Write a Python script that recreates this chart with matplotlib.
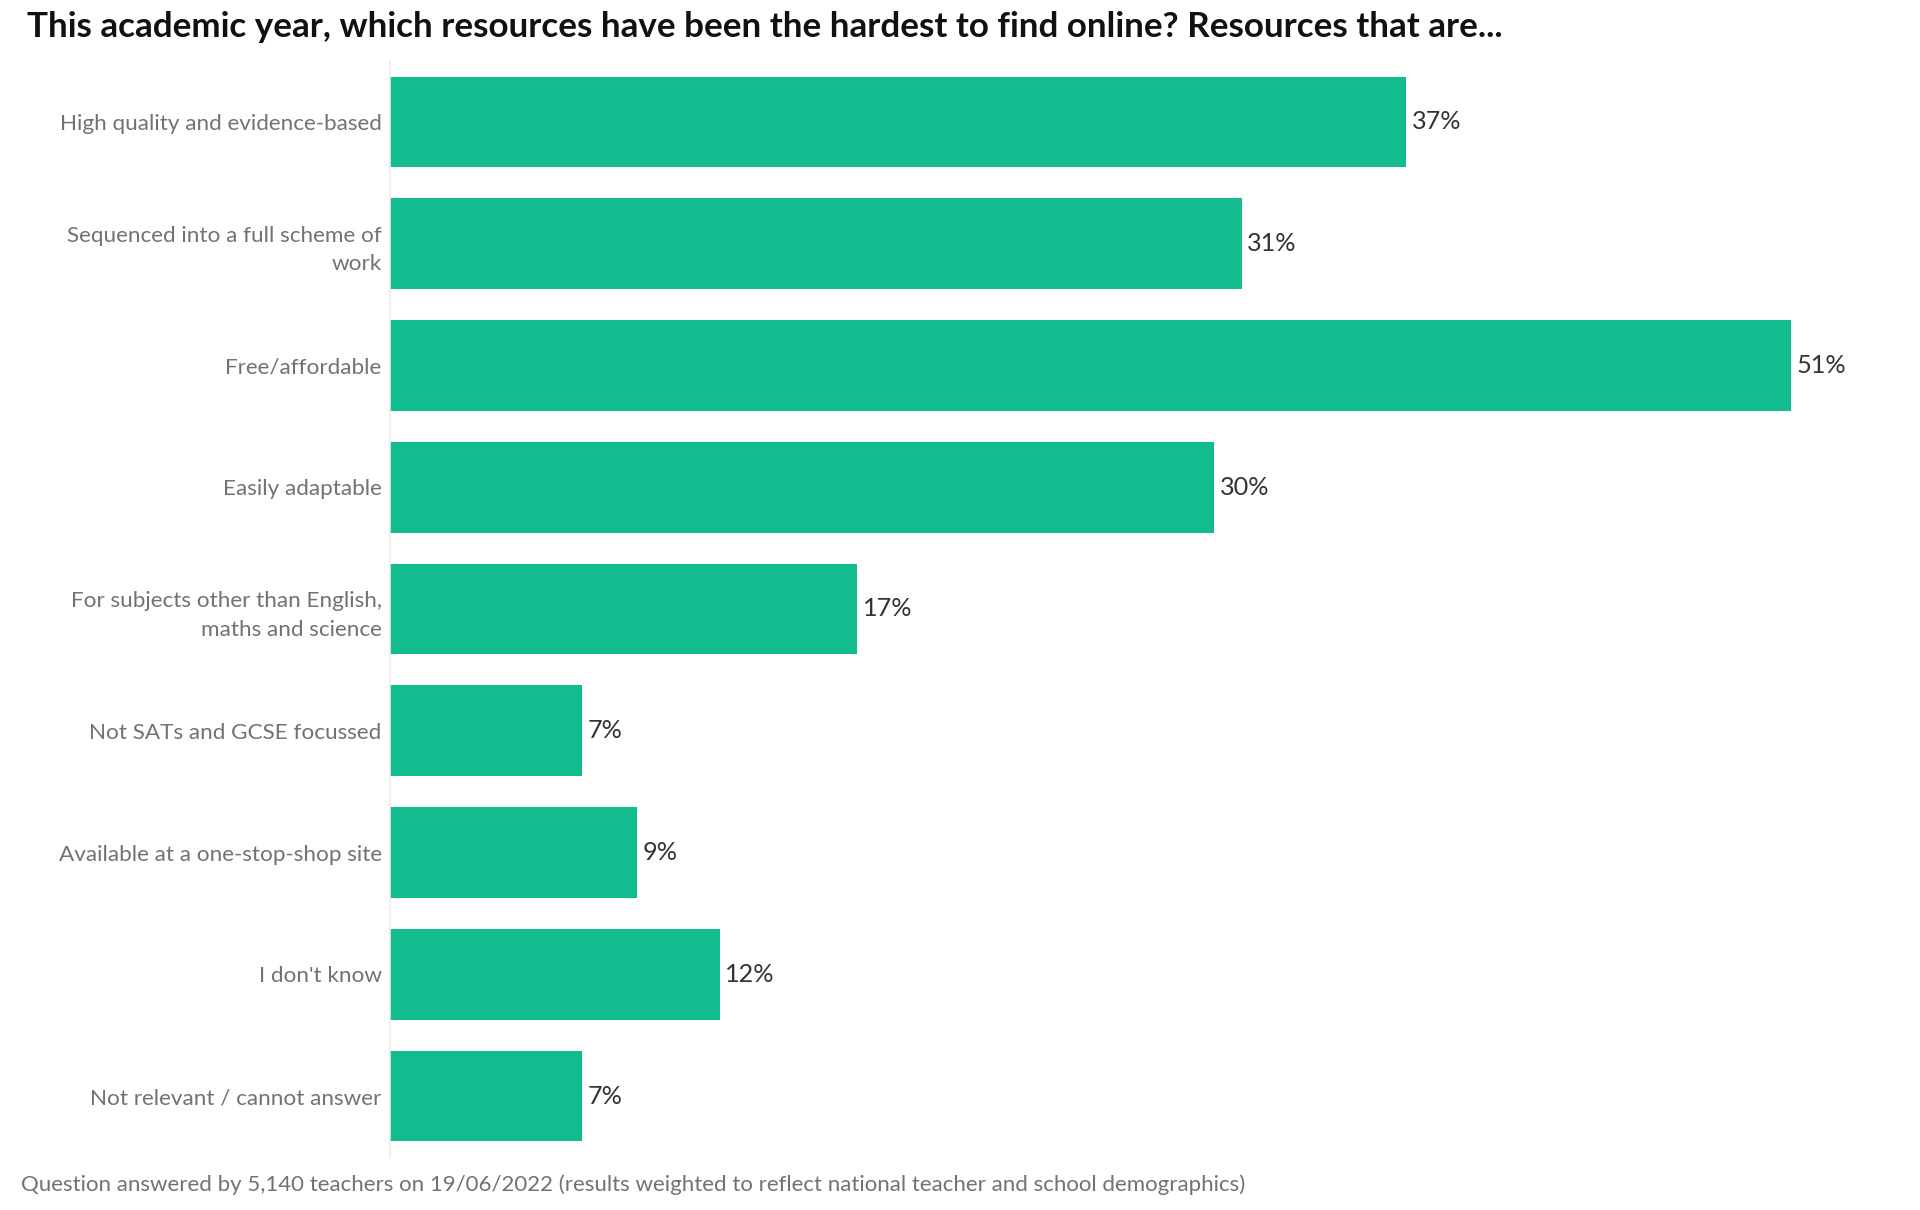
import matplotlib
matplotlib.use("Agg")
import matplotlib.pyplot as plt

categories = [
    "High quality and evidence-based",
    "Sequenced into a full scheme of\nwork",
    "Free/affordable",
    "Easily adaptable",
    "For subjects other than English,\nmaths and science",
    "Not SATs and GCSE focussed",
    "Available at a one-stop-shop site",
    "I don't know",
    "Not relevant / cannot answer",
]
values = [37, 31, 51, 30, 17, 7, 9, 12, 7]
value_labels = ["37%", "31%", "51%", "30%", "17%", "7%", "9%", "12%", "7%"]

title = "This academic year, which resources have been the hardest to find online? Resources that are..."
footnote = ("Question answered by 5,140 teachers on 19/06/2022 (results weighted to reflect "
            "national teacher and school demographics)")

BAR = "#13BC8E"
W, H = 1920, 1210
plt.rcParams['font.family'] = ['Lato', 'DejaVu Sans']

fig = plt.figure(figsize=(W / 100, H / 100), dpi=100)
ax_left, ax_right = 390, 390 + 55 * 27.47
ax_top, ax_bot = 61, 1157
ax = fig.add_axes([ax_left / W, 1 - ax_bot / H, (ax_right - ax_left) / W, (ax_bot - ax_top) / H])

ypos = list(range(len(categories)))
bars = ax.barh(ypos, values, height=0.745, color=BAR)
ax.set_xlim(0, 55)
ax.set_ylim(len(categories) - 0.5, -0.5)
for y, v, lab in zip(ypos, values, value_labels):
    ax.annotate(lab, (v, y), xytext=(4, 0), textcoords="offset points",
                va="center", ha="left", fontsize=18.2, color="#333333")

ax.set_yticks(ypos)
ax.set_yticklabels(categories, fontsize=16.2, color="#727272", linespacing=1.55)
ax.tick_params(axis="y", length=0, pad=6)
ax.tick_params(axis="x", length=0, labelbottom=False)
for s in ["top", "right", "bottom"]:
    ax.spines[s].set_visible(False)
ax.spines["left"].set_color("#ececec")
ax.spines["left"].set_linewidth(1.2)

fig.text(27 / W, 1 - 27 / H, title, fontsize=25.2, fontweight="bold", color="#111111",
         ha="left", va="center")
fig.text(21 / W, 1 - 1185 / H, footnote, fontsize=16, color="#727272", ha="left", va="center")

fig.savefig("out.png", dpi=100, facecolor="white")
